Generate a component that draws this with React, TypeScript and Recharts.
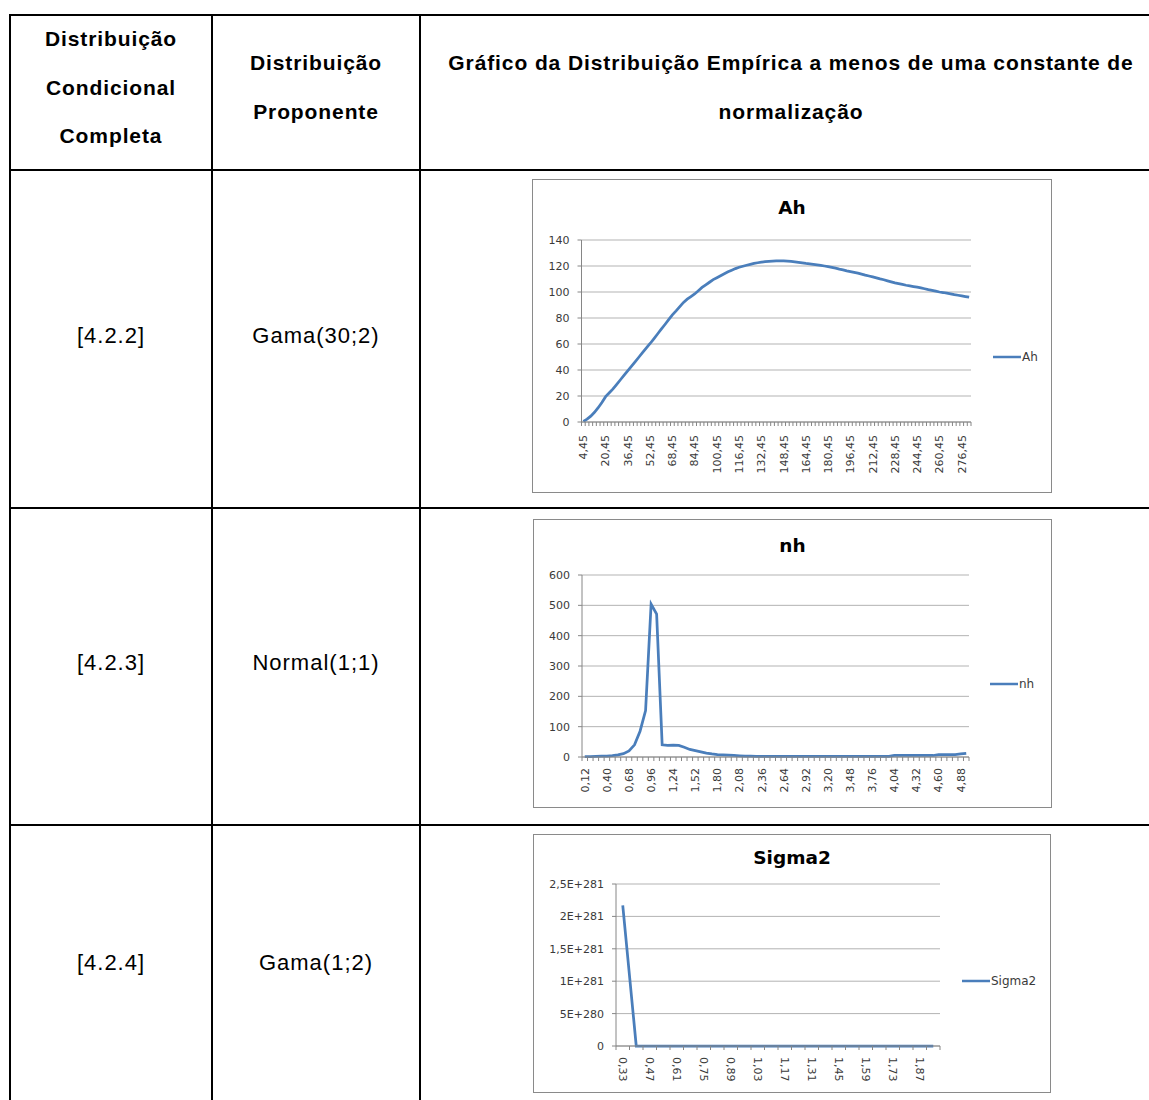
import React from "react";
import { LineChart, Line, XAxis, YAxis, CartesianGrid, Legend } from "recharts";

// ---- data ----
const ahLabels = ["4,45", "20,45", "36,45", "52,45", "68,45", "84,45", "100,45", "116,45", "132,45", "148,45", "164,45", "180,45", "196,45", "212,45", "228,45", "244,45", "260,45", "276,45"];
const ahValues = [
  0.5, 2.2, 4.5, 7.5, 11, 15, 19.5, 22.5, 25.5, 29, 32.5, 36, 39.5, 43, 46.5, 50, 53.5, 57, 60.4,
  64, 67.7, 71.4, 75, 78.7, 82.4, 85.5, 88.8, 92, 94.5, 96.5, 98.5, 101, 103.5, 105.5, 107.5, 109.5,
  111, 112.5, 114, 115.5, 116.8, 118, 119, 119.8, 120.6, 121.3, 122, 122.5, 123, 123.3, 123.6, 123.8,
  124, 124, 124, 123.8, 123.5, 123.2, 122.8, 122.4, 122, 121.7, 121.3, 120.9, 120.5, 120, 119.5,
  118.9, 118.3, 117.6, 117, 116.3, 115.7, 115.1, 114.5, 113.8, 113, 112.3, 111.6, 110.9, 110.1, 109.4,
  108.6, 107.8, 107, 106.4, 105.8, 105.2, 104.7, 104.2, 103.7, 103.1, 102.5, 101.8, 101.2, 100.6, 100,
  99.6, 99.1, 98.6, 98, 97.5, 97, 96.5, 96,
];
const ahYTicks = [0, 20, 40, 60, 80, 100, 120, 140];

const nhLabels = ["0,12", "0,40", "0,68", "0,96", "1,24", "1,52", "1,80", "2,08", "2,36", "2,64", "2,92", "3,20", "3,48", "3,76", "4,04", "4,32", "4,60", "4,88"];
const nhValues = [
  1, 1.5, 2, 2.5, 3, 4.5, 7, 11, 20, 40, 85, 153, 504, 471, 40, 38, 39, 38, 32, 25, 21, 17, 13, 10,
  8, 7, 6, 5, 4, 3, 2.5, 2, 2, 2, 2, 2, 2, 2, 2, 2, 2, 2, 2, 2, 2, 2, 2, 2, 2, 2, 2, 2, 2, 2, 2, 2,
  5, 5, 5, 5, 5, 5, 5, 5, 8, 8, 8, 8, 10, 12,
];
const nhYTicks = [0, 100, 200, 300, 400, 500, 600];

const sigmaLabels = ["0,33", "0,47", "0,61", "0,75", "0,89", "1,03", "1,17", "1,31", "1,45", "1,59", "1,73", "1,87"];
const sigmaValues = [2.17e281, 0, 0, 0, 0, 0, 0, 0, 0, 0, 0, 0, 0, 0, 0, 0, 0, 0, 0, 0, 0, 0, 0, 0];
const sigmaYTicks = [0, 5e280, 1e281, 1.5e281, 2e281, 2.5e281];

const FONT = '"DejaVu Sans", sans-serif';
const TFONT = '"Liberation Sans", Arial, sans-serif';
const AXIS = "#868686";
const GRID = "#b3b3b3";
const TXT = "#3a3a3a";
const BLUE = "#4a7ebb";

const sciFmt = (v: number) => (v === 0 ? "0" : v.toExponential().replace("e", "E").replace(".", ","));

interface ChartProps {
  left: number; top: number; width: number; height: number;
  title: string; titleTop: number; name: string;
  values: number[]; labels: string[]; every: number; yTicks: number[];
  yFmt?: (v: number) => string;
  mTop: number; mRight: number; yWidth: number; xHeight: number;
  rotate: number; gap: number; legLeft: number; legTop: number;
}

function ExcelChart(p: ChartProps) {
  const n = p.values.length;
  const data = p.values.map((v, i) => ({ i, v }));
  const bounds = Array.from({ length: n + 1 }, (_, i) => i - 0.5);
  const lbl = p.labels.map((_, k) => k * p.every);
  const xTicks = [...bounds, ...lbl].sort((a, b) => a - b);

  const renderTick = (props: any) => {
    const { x, y, payload } = props;
    const v = payload.value;
    if (!Number.isInteger(v)) {
      return <line x1={x} x2={x} y1={y} y2={y + 4} stroke={AXIS} />;
    }
    const ty = y + p.gap;
    return (
      <text x={x} y={ty} dy="0.35em" transform={`rotate(${p.rotate} ${x} ${ty})`}
        textAnchor={p.rotate < 0 ? "end" : "start"} fontSize={11} fill={TXT} fontFamily={FONT}>
        {p.labels[v / p.every]}
      </text>
    );
  };

  return (
    <div style={{ position: "absolute", left: p.left, top: p.top, width: p.width, height: p.height,
      border: "1px solid #8a8a8a", boxSizing: "border-box", background: "#fff" }}>
      <div style={{ position: "absolute", left: -1, top: p.titleTop, width: p.width, textAlign: "center",
        fontFamily: FONT, fontWeight: "bold", fontSize: 18.5, lineHeight: "18.5px", color: "#000" }}>
        {p.title}
      </div>
      <div style={{ position: "absolute", left: -1, top: -1 }}>
        <LineChart width={p.width} height={p.height} data={data}
          margin={{ top: p.mTop, right: p.mRight, bottom: 0, left: 0 }}>
          <CartesianGrid vertical={false} stroke={GRID} />
          <XAxis dataKey="i" type="number" domain={[-0.5, n - 0.5]} ticks={xTicks} interval={0}
            tickLine={false} tickSize={0} tickMargin={0} height={p.xHeight}
            axisLine={{ stroke: AXIS }} tick={renderTick} />
          <YAxis type="number" domain={[p.yTicks[0], p.yTicks[p.yTicks.length - 1]]} ticks={p.yTicks}
            interval={0} width={p.yWidth} tickSize={4} tickMargin={8}
            axisLine={{ stroke: AXIS }} tickLine={{ stroke: AXIS }}
            tickFormatter={p.yFmt} tick={{ fontSize: 11, fill: TXT, fontFamily: FONT }} />
          <Legend layout="vertical" align="center" verticalAlign="middle"
            wrapperStyle={{ left: p.legLeft, top: p.legTop, width: 120, height: 14 }}
            content={() => (
              <div style={{ display: "flex", alignItems: "center", height: 14 }}>
                <svg width={28} height={4}><line x1={0} x2={28} y1={2} y2={2} stroke={BLUE} strokeWidth={2.5} /></svg>
                <span style={{ fontFamily: FONT, fontSize: 12, color: TXT, marginLeft: 1 }}>{p.name}</span>
              </div>
            )} />
          <Line type="linear" dataKey="v" name={p.name} stroke={BLUE} strokeWidth={2.75} dot={false}
            isAnimationActive={false} />
        </LineChart>
      </div>
    </div>
  );
}

const hLine = (top: number) => ({ position: "absolute" as const, left: 9, top, width: 1140, height: 2, background: "#000" });
const vLine = (left: number) => ({ position: "absolute" as const, left, top: 14, width: 2, height: 1086, background: "#000" });

const headStyle = { position: "absolute" as const, fontFamily: TFONT, fontWeight: "bold" as const, fontSize: 21,
  letterSpacing: 0.9, lineHeight: "48.5px", color: "#000", textAlign: "center" as const, whiteSpace: "nowrap" as const };
const cellStyle = { position: "absolute" as const, fontFamily: TFONT, fontSize: 22, letterSpacing: 1,
  lineHeight: "30px", color: "#000", textAlign: "center" as const, whiteSpace: "nowrap" as const };

export default function App() {
  return (
    <div style={{ position: "absolute", left: 0, top: 0, width: 1149, height: 1100, overflow: "hidden", background: "#fff" }}>
      <div style={hLine(14)} />
      <div style={hLine(169)} />
      <div style={hLine(507)} />
      <div style={hLine(824)} />
      <div style={vLine(9)} />
      <div style={vLine(211)} />
      <div style={vLine(419)} />

      <div style={{ ...headStyle, left: 11, width: 200, top: 15 }}>Distribuição<br />Condicional<br />Completa</div>
      <div style={{ ...headStyle, left: 213, width: 206, top: 39 }}>Distribuição<br />Proponente</div>
      <div style={{ ...headStyle, left: 431, width: 720, top: 39 }}>
        Gráfico da Distribuição Empírica a menos de uma constante de<br />normalização
      </div>

      <div style={{ ...cellStyle, left: 11, width: 200, top: 321 }}>[4.2.2]</div>
      <div style={{ ...cellStyle, left: 213, width: 206, top: 321 }}>Gama(30;2)</div>
      <div style={{ ...cellStyle, left: 11, width: 200, top: 648 }}>[4.2.3]</div>
      <div style={{ ...cellStyle, left: 213, width: 206, top: 648 }}>Normal(1;1)</div>
      <div style={{ ...cellStyle, left: 11, width: 200, top: 948 }}>[4.2.4]</div>
      <div style={{ ...cellStyle, left: 213, width: 206, top: 948 }}>Gama(1;2)</div>

      <ExcelChart left={532} top={179} width={520} height={314} title="Ah" titleTop={19} name="Ah"
        values={ahValues} labels={ahLabels} every={6} yTicks={ahYTicks}
        mTop={61} mRight={81} yWidth={49.5} xHeight={71} rotate={-90} gap={13} legLeft={461} legTop={171} />
      <ExcelChart left={533} top={519} width={519} height={289} title="nh" titleTop={17} name="nh"
        values={nhValues} labels={nhLabels} every={4} yTicks={nhYTicks}
        mTop={56} mRight={83} yWidth={49} xHeight={51} rotate={-90} gap={11} legLeft={457} legTop={158} />
      <ExcelChart left={533} top={834} width={518} height={259} title="Sigma2" titleTop={14} name="Sigma2"
        values={sigmaValues} labels={sigmaLabels} every={2} yTicks={sigmaYTicks} yFmt={sciFmt}
        mTop={50} mRight={111} yWidth={83} xHeight={47} rotate={90} gap={11} legLeft={429} legTop={140} />
    </div>
  );
}
